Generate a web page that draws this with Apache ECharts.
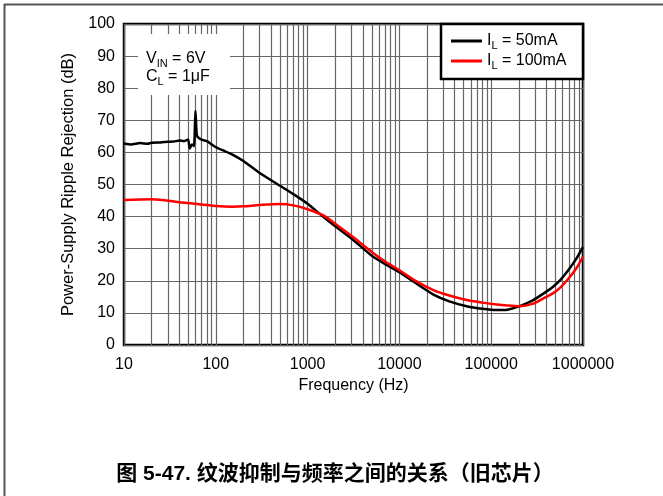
<!DOCTYPE html>
<html>
<head>
<meta charset="utf-8">
<script src="https://cdn.jsdelivr.net/npm/echarts@6/dist/echarts.min.js"></script>
<style>
  html, body { margin: 0; padding: 0; background: #fff; }
  #chart { width: 663px; height: 496px; }
</style>
</head>
<body>
<div id="chart"></div>
<script>
// 频率 (Hz) 与 PSRR (dB) 数据
var freq50 = [10, 12, 15, 18, 20, 25, 30, 35, 40, 45, 50, 52, 55, 58, 60, 62, 65, 70, 80, 90, 100, 120, 150, 200, 300, 500, 700, 1000, 1500, 2000, 3000, 5000, 7000, 10000, 15000, 23500, 35000, 54000, 80000, 115000, 150000, 205000, 280000, 370000, 465000, 565000, 700000, 850000, 1000000];
var psrr50 = [62.8, 62.5, 62.9, 62.7, 63.0, 63.1, 63.3, 63.4, 63.7, 63.5, 64.0, 61.2, 62.5, 62.0, 73.0, 65.5, 64.5, 64.0, 63.5, 62.5, 61.6, 60.6, 59.4, 57.3, 53.6, 49.6, 47.0, 44.0, 39.8, 37.0, 33.2, 27.8, 25.2, 22.7, 19.3, 15.7, 13.6, 12.1, 11.3, 10.9, 11.0, 12.1, 13.8, 16.0, 18.0, 20.2, 23.5, 27.0, 30.5];

var freq100 = [10, 20, 40, 70, 100, 150, 200, 300, 500, 700, 1000, 1500, 2000, 3000, 5000, 7000, 10000, 15000, 23500, 35000, 54000, 80000, 115000, 150000, 205000, 280000, 370000, 465000, 565000, 700000, 850000, 1000000];
var psrr100 = [45.2, 45.4, 44.5, 43.8, 43.3, 43.1, 43.2, 43.6, 43.9, 43.5, 42.3, 40.3, 37.8, 34.0, 29.0, 26.0, 23.3, 20.0, 17.1, 15.4, 14.0, 13.2, 12.6, 12.3, 12.1, 12.8, 14.5, 16.0, 17.9, 20.8, 24.0, 27.5];

var decades = [10, 100, 1000, 10000, 100000];
var yTicks = [0, 10, 20, 30, 40, 50, 60, 70, 80, 90, 100];

var FONT = '"Liberation Sans", Arial, sans-serif';

// 对数网格线 (每个十倍频 1..9)
var vLines = [];
for (var i = 0; i < decades.length; i++) {
    for (var k = 1; k <= 9; k++) {
        vLines.push({ xAxis: decades[i] * k });
    }
}
vLines.push({ xAxis: 1000000 });

function pairs(xs, ys) {
    var out = [];
    for (var i = 0; i < xs.length; i++) out.push([xs[i], ys[i]]);
    return out;
}

var subRich = {
    a: { fontSize: 16, fontFamily: FONT, color: '#000' },
    s: { fontSize: 11, fontFamily: FONT, color: '#000', padding: [9, 0, 0, 0] }
};

var chart = echarts.init(document.getElementById('chart'));
var option = {
    animation: false,
    grid: {
        left: 124, right: 80, top: 24, bottom: 151,
        show: true, borderColor: '#000', borderWidth: 2.5, backgroundColor: 'transparent'
    },
    legend: {
        orient: 'vertical',
        left: 451, top: 33,
        itemWidth: 31, itemHeight: 3,
        itemGap: 2,
        icon: 'rect',
        padding: 0,
        data: ['50mA', '100mA'],
        formatter: function (name) { return '{a|I}{s|L}{a| = ' + name + '}'; },
        textStyle: { rich: subRich, fontFamily: FONT, fontSize: 16 },
        z: 10
    },
    xAxis: {
        type: 'log', logBase: 10, min: 10, max: 1000000,
        name: 'Frequency (Hz)', nameLocation: 'middle', nameGap: 31,
        nameTextStyle: { fontFamily: FONT, fontSize: 16, color: '#000' },
        axisLine: { show: false },
        axisTick: { show: false },
        splitLine: { show: false },
        axisLabel: {
            fontFamily: FONT, fontSize: 16, color: '#000', margin: 12,
            formatter: function (v) { return String(Math.round(v)); }
        }
    },
    yAxis: {
        type: 'value', min: yTicks[0], max: yTicks[yTicks.length - 1], interval: 10,
        name: 'Power-Supply Ripple Rejection (dB)', nameLocation: 'middle', nameGap: 47,
        nameTextStyle: { fontFamily: FONT, fontSize: 16.5, color: '#000' },
        axisLine: { show: false },
        axisTick: { show: false },
        splitLine: { show: true, lineStyle: { color: '#666', width: 1.2 } },
        axisLabel: { fontFamily: FONT, fontSize: 16, color: '#000', margin: 9 }
    },
    series: [
        {
            name: '50mA', type: 'line', showSymbol: false, symbol: 'none',
            color: '#000', smooth: 0.15,
            lineStyle: { color: '#000', width: 2.5 },
            data: pairs(freq50, psrr50),
            z: 3,
            markLine: {
                silent: true, symbol: 'none', label: { show: false },
                lineStyle: { color: '#666', width: 1.2, type: 'solid' },
                data: vLines, z: 1
            }
        },
        {
            name: '100mA', type: 'line', showSymbol: false, symbol: 'none',
            color: '#f00', smooth: 0.3,
            lineStyle: { color: '#f00', width: 2.5 },
            data: pairs(freq100, psrr100),
            z: 4
        }
    ],
    graphic: [
        { type: 'line', shape: { x1: 4.5, y1: 4, x2: 4.5, y2: 496 }, style: { stroke: '#555', lineWidth: 2 }, z: 20 },
        { type: 'line', shape: { x1: 4, y1: 4.5, x2: 663, y2: 4.5 }, style: { stroke: '#555', lineWidth: 2 }, z: 20 },
        { type: 'rect', shape: { x: 441, y: 24, width: 142, height: 55 }, style: { fill: '#fff', stroke: '#000', lineWidth: 2.5 }, z: 8 },
        { type: 'rect', shape: { x: 138, y: 34, width: 92, height: 61 }, style: { fill: '#fff' }, z: 8 },
        {
            type: 'text', x: 146, y: 50, z: 9,
            style: {
                text: '{a|V}{s|IN}{a| = 6V}\n{a|C}{s|L}{a| = 1μF}',
                rich: {
                    a: { fontSize: 16, fontFamily: FONT, fill: '#000', lineHeight: 18 },
                    s: { fontSize: 11, fontFamily: FONT, fill: '#000', padding: [9, 0, 0, 0], lineHeight: 18 }
                }
            }
        },
        {
            type: 'text', x: 335, y: 474, z: 9,
            style: {
                text: '图 5-47. 纹波抑制与频率之间的关系（旧芯片）',
                fill: '#000', align: 'center', verticalAlign: 'middle',
                font: 'bold 21px "Liberation Sans", "Noto Sans CJK SC", sans-serif'
            }
        }
    ]
};
chart.setOption(option);
</script>
</body>
</html>
